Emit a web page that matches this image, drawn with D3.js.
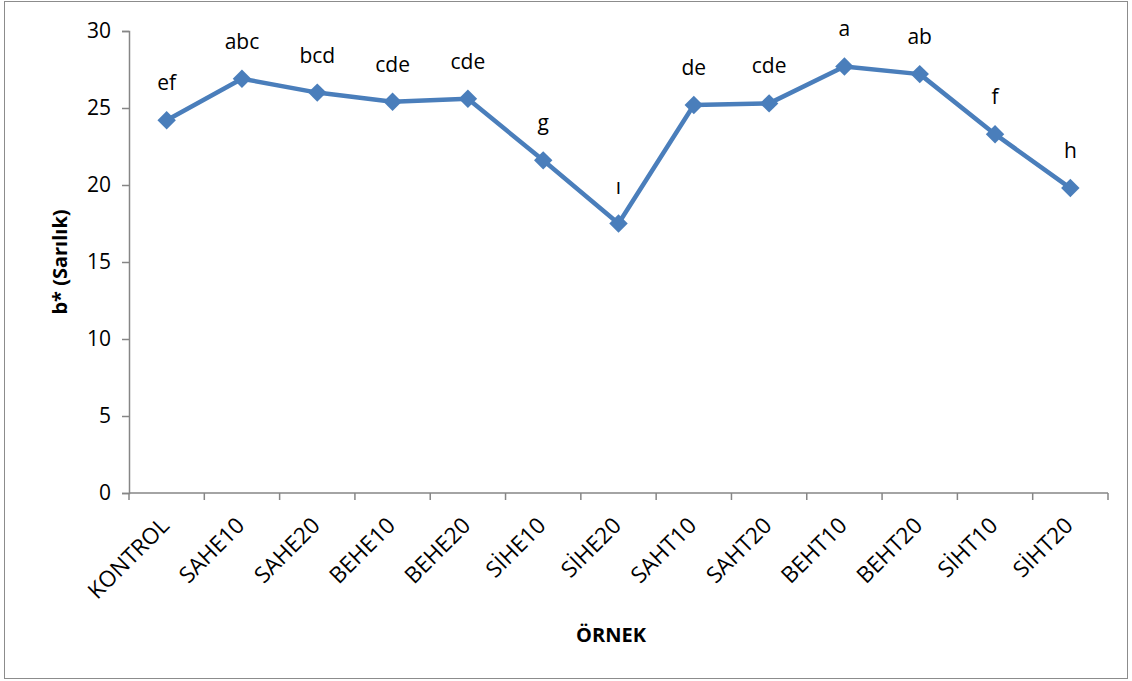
<!DOCTYPE html>
<html><head><meta charset="utf-8">
<script src="https://cdn.jsdelivr.net/npm/d3@7"></script>
<style>body{margin:0;background:#fff}svg{display:block}text{font-family:"Open Sans","Liberation Sans",sans-serif;fill:#000}</style>
</head><body><svg id="c" width="1132" height="681"></svg>
<script>
const categories = ["KONTROL","SAHE10","SAHE20","BEHE10","BEHE20","SİHE10","SİHE20","SAHT10","SAHT20","BEHT10","BEHT20","SİHT10","SİHT20"];
const values = [24.2, 26.9, 26.0, 25.4, 25.6, 21.6, 17.5, 25.2, 25.3, 27.7, 27.2, 23.3, 19.8];
const letters = ["ef","abc","bcd","cde","cde","g","ı","de","cde","a","ab","f","h"];
const yTicks = [0,5,10,15,20,25,30];

(function(){
const svg = d3.select("#c");
svg.append("rect").attr("x",4.5).attr("y",1.5).attr("width",1123).attr("height",677)
  .attr("fill","none").attr("stroke","#8c8c8c").attr("stroke-width",1);

const pl=129, pr=1108, pt=31, pb=493;
const x = d3.scaleBand().domain(categories).range([pl,pr]);
const y = d3.scaleLinear().domain([0,30]).range([pb,pt]);

const yAxis = svg.append("g").attr("transform",`translate(${pl},0)`)
  .call(d3.axisLeft(y).tickValues(yTicks).tickSize(7).tickPadding(11));
yAxis.select(".domain").attr("stroke","#868686").attr("stroke-width",1.5);
yAxis.selectAll(".tick line").attr("stroke","#868686").attr("stroke-width",1.5);
yAxis.selectAll("text").style("font-size","21px").attr("fill","#000");

const xg = svg.append("g").attr("transform",`translate(0,${pb})`);
xg.append("line").attr("x1",pl).attr("x2",pr).attr("stroke","#868686").attr("stroke-width",1.5);
const bounds = categories.map(c=>x(c)).concat([pr]);
xg.selectAll("line.t").data(bounds).enter().append("line").attr("class","t")
  .attr("x1",d=>d).attr("x2",d=>d).attr("y1",0).attr("y2",7)
  .attr("stroke","#868686").attr("stroke-width",1.5);
xg.selectAll("text").data(categories).enter().append("text")
  .attr("transform",d=>`translate(${x(d)+x.bandwidth()/2+4},${34}) rotate(-45)`)
  .attr("text-anchor","end").style("font-size","22.5px").text(d=>d);

const line = d3.line().x((d,i)=>x(categories[i])+x.bandwidth()/2).y(d=>y(d));
svg.append("path").datum(values).attr("d",line).attr("fill","none")
  .attr("stroke","#4A7EBB").attr("stroke-width",4.5).attr("stroke-linejoin","round");

svg.selectAll("path.m").data(values).enter().append("path").attr("class","m")
  .attr("d",d3.symbol().type(d3.symbolSquare).size(170))
  .attr("transform",(d,i)=>`translate(${x(categories[i])+x.bandwidth()/2},${y(d)}) rotate(45)`)
  .attr("fill","#4A7EBB");

svg.selectAll("text.l").data(values).enter().append("text").attr("class","l")
  .attr("x",(d,i)=>x(categories[i])+x.bandwidth()/2)
  .attr("y",d=>y(d)-30).attr("text-anchor","middle").style("font-size","21px")
  .text((d,i)=>letters[i]);

svg.append("text").attr("transform","translate(67,262) rotate(-90)").attr("text-anchor","middle")
  .style("font-size","20px").style("font-weight","bold").text("b* (Sarılık)");
svg.append("text").attr("x",611).attr("y",642).attr("text-anchor","middle")
  .style("font-size","20px").style("font-weight","bold").text("ÖRNEK");
})();
</script></body></html>
